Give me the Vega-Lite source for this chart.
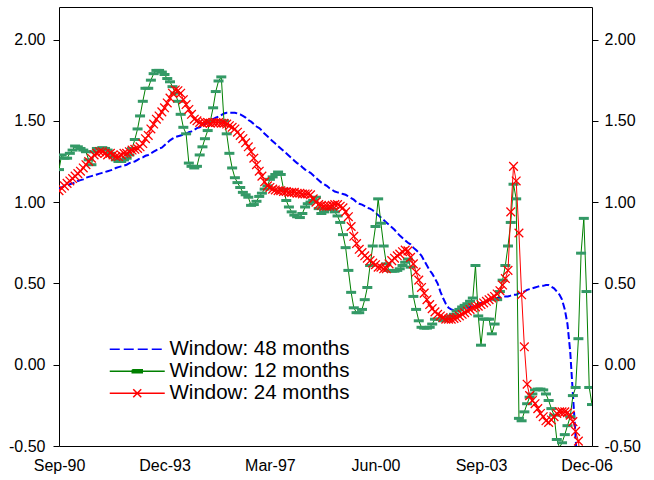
{
"$schema": "https://vega.github.io/schema/vega-lite/v6.json",
"width": 533, "height": 439,
"autosize": "none",
"padding": {"left": 59, "top": 7, "right": 62, "bottom": 34},
"background": "white",
"config": {
  "view": {"stroke": "black", "strokeWidth": 1},
  "font": "Liberation Sans",
  "axis": {"labelFont": "Liberation Sans", "labelFontSize": 16, "labelColor": "black", "tickColor": "black", "tickWidth": 1, "grid": false, "domain": false, "title": null, "labelFlush": false, "labelOverlap": false}
},
"data": {"values": [
{"d":"1990-09-01","w48":1.08,"w12":1.20,"w24":1.07},
{"d":"1990-10-01","w48":1.09,"w12":1.29,"w24":1.085},
{"d":"1990-11-01","w48":1.10,"w12":1.27,"w24":1.10},
{"d":"1990-12-01","w48":1.10,"w12":1.27,"w24":1.115},
{"d":"1991-01-01","w48":1.11,"w12":1.30,"w24":1.13},
{"d":"1991-02-01","w48":1.115,"w12":1.32,"w24":1.145},
{"d":"1991-03-01","w48":1.12,"w12":1.345,"w24":1.16},
{"d":"1991-04-01","w48":1.13,"w12":1.34,"w24":1.175},
{"d":"1991-05-01","w48":1.135,"w12":1.33,"w24":1.19},
{"d":"1991-06-01","w48":1.14,"w12":1.32,"w24":1.21},
{"d":"1991-07-01","w48":1.15,"w12":1.31,"w24":1.23},
{"d":"1991-08-01","w48":1.155,"w12":1.26,"w24":1.25},
{"d":"1991-09-01","w48":1.16,"w12":1.23,"w24":1.27},
{"d":"1991-10-01","w48":1.165,"w12":1.31,"w24":1.29},
{"d":"1991-11-01","w48":1.17,"w12":1.33,"w24":1.30},
{"d":"1991-12-01","w48":1.175,"w12":1.33,"w24":1.31},
{"d":"1992-01-01","w48":1.18,"w12":1.335,"w24":1.31},
{"d":"1992-02-01","w48":1.185,"w12":1.33,"w24":1.30},
{"d":"1992-03-01","w48":1.19,"w12":1.32,"w24":1.29},
{"d":"1992-04-01","w48":1.195,"w12":1.30,"w24":1.30},
{"d":"1992-05-01","w48":1.20,"w12":1.28,"w24":1.29},
{"d":"1992-06-01","w48":1.21,"w12":1.26,"w24":1.28},
{"d":"1992-07-01","w48":1.215,"w12":1.25,"w24":1.28},
{"d":"1992-08-01","w48":1.22,"w12":1.25,"w24":1.29},
{"d":"1992-09-01","w48":1.225,"w12":1.26,"w24":1.30},
{"d":"1992-10-01","w48":1.23,"w12":1.27,"w24":1.30},
{"d":"1992-11-01","w48":1.24,"w12":1.29,"w24":1.31},
{"d":"1992-12-01","w48":1.245,"w12":1.33,"w24":1.32},
{"d":"1993-01-01","w48":1.25,"w12":1.385,"w24":1.325},
{"d":"1993-02-01","w48":1.26,"w12":1.45,"w24":1.33},
{"d":"1993-03-01","w48":1.27,"w12":1.53,"w24":1.34},
{"d":"1993-04-01","w48":1.275,"w12":1.62,"w24":1.36},
{"d":"1993-05-01","w48":1.285,"w12":1.70,"w24":1.39},
{"d":"1993-06-01","w48":1.29,"w12":1.70,"w24":1.41},
{"d":"1993-07-01","w48":1.30,"w12":1.75,"w24":1.45},
{"d":"1993-08-01","w48":1.31,"w12":1.79,"w24":1.48},
{"d":"1993-09-01","w48":1.32,"w12":1.81,"w24":1.51},
{"d":"1993-10-01","w48":1.33,"w12":1.81,"w24":1.53},
{"d":"1993-11-01","w48":1.335,"w12":1.80,"w24":1.555},
{"d":"1993-12-01","w48":1.35,"w12":1.785,"w24":1.58},
{"d":"1994-01-01","w48":1.365,"w12":1.76,"w24":1.61},
{"d":"1994-02-01","w48":1.38,"w12":1.74,"w24":1.64},
{"d":"1994-03-01","w48":1.39,"w12":1.71,"w24":1.67},
{"d":"1994-04-01","w48":1.40,"w12":1.67,"w24":1.69},
{"d":"1994-05-01","w48":1.405,"w12":1.62,"w24":1.685},
{"d":"1994-06-01","w48":1.41,"w12":1.54,"w24":1.67},
{"d":"1994-07-01","w48":1.415,"w12":1.46,"w24":1.63},
{"d":"1994-08-01","w48":1.42,"w12":1.42,"w24":1.60},
{"d":"1994-09-01","w48":1.43,"w12":1.24,"w24":1.57},
{"d":"1994-10-01","w48":1.435,"w12":1.22,"w24":1.54},
{"d":"1994-11-01","w48":1.445,"w12":1.21,"w24":1.51},
{"d":"1994-12-01","w48":1.455,"w12":1.22,"w24":1.50},
{"d":"1995-01-01","w48":1.46,"w12":1.29,"w24":1.49},
{"d":"1995-02-01","w48":1.47,"w12":1.34,"w24":1.485},
{"d":"1995-03-01","w48":1.48,"w12":1.39,"w24":1.49},
{"d":"1995-04-01","w48":1.49,"w12":1.44,"w24":1.49},
{"d":"1995-05-01","w48":1.50,"w12":1.50,"w24":1.485},
{"d":"1995-06-01","w48":1.51,"w12":1.58,"w24":1.49},
{"d":"1995-07-01","w48":1.52,"w12":1.68,"w24":1.49},
{"d":"1995-08-01","w48":1.525,"w12":1.745,"w24":1.49},
{"d":"1995-09-01","w48":1.535,"w12":1.77,"w24":1.485},
{"d":"1995-10-01","w48":1.545,"w12":1.50,"w24":1.485},
{"d":"1995-11-01","w48":1.55,"w12":1.42,"w24":1.48},
{"d":"1995-12-01","w48":1.55,"w12":1.30,"w24":1.47},
{"d":"1996-01-01","w48":1.55,"w12":1.21,"w24":1.46},
{"d":"1996-02-01","w48":1.55,"w12":1.15,"w24":1.45},
{"d":"1996-03-01","w48":1.545,"w12":1.12,"w24":1.43},
{"d":"1996-04-01","w48":1.54,"w12":1.09,"w24":1.41},
{"d":"1996-05-01","w48":1.53,"w12":1.06,"w24":1.39},
{"d":"1996-06-01","w48":1.52,"w12":1.045,"w24":1.365},
{"d":"1996-07-01","w48":1.505,"w12":1.03,"w24":1.34},
{"d":"1996-08-01","w48":1.495,"w12":0.98,"w24":1.31},
{"d":"1996-09-01","w48":1.48,"w12":0.985,"w24":1.27},
{"d":"1996-10-01","w48":1.465,"w12":1.005,"w24":1.23},
{"d":"1996-11-01","w48":1.455,"w12":1.035,"w24":1.19},
{"d":"1996-12-01","w48":1.44,"w12":1.055,"w24":1.16},
{"d":"1997-01-01","w48":1.42,"w12":1.08,"w24":1.125},
{"d":"1997-02-01","w48":1.405,"w12":1.10,"w24":1.10},
{"d":"1997-03-01","w48":1.39,"w12":1.14,"w24":1.09},
{"d":"1997-04-01","w48":1.375,"w12":1.155,"w24":1.08},
{"d":"1997-05-01","w48":1.36,"w12":1.17,"w24":1.075},
{"d":"1997-06-01","w48":1.345,"w12":1.185,"w24":1.07},
{"d":"1997-07-01","w48":1.33,"w12":1.17,"w24":1.07},
{"d":"1997-08-01","w48":1.315,"w12":1.08,"w24":1.065},
{"d":"1997-09-01","w48":1.30,"w12":1.01,"w24":1.065},
{"d":"1997-10-01","w48":1.285,"w12":0.97,"w24":1.06},
{"d":"1997-11-01","w48":1.27,"w12":0.94,"w24":1.06},
{"d":"1997-12-01","w48":1.255,"w12":0.92,"w24":1.06},
{"d":"1998-01-01","w48":1.24,"w12":0.91,"w24":1.055},
{"d":"1998-02-01","w48":1.23,"w12":0.905,"w24":1.055},
{"d":"1998-03-01","w48":1.215,"w12":0.93,"w24":1.05},
{"d":"1998-04-01","w48":1.20,"w12":0.97,"w24":1.05},
{"d":"1998-05-01","w48":1.19,"w12":0.99,"w24":1.05},
{"d":"1998-06-01","w48":1.18,"w12":1.00,"w24":1.045},
{"d":"1998-07-01","w48":1.165,"w12":1.01,"w24":1.02},
{"d":"1998-08-01","w48":1.15,"w12":1.03,"w24":1.00},
{"d":"1998-09-01","w48":1.135,"w12":0.96,"w24":0.985},
{"d":"1998-10-01","w48":1.12,"w12":0.93,"w24":0.98},
{"d":"1998-11-01","w48":1.11,"w12":0.94,"w24":0.975},
{"d":"1998-12-01","w48":1.10,"w12":0.955,"w24":0.975},
{"d":"1999-01-01","w48":1.085,"w12":0.96,"w24":0.975},
{"d":"1999-02-01","w48":1.075,"w12":0.955,"w24":0.98},
{"d":"1999-03-01","w48":1.065,"w12":0.94,"w24":0.985},
{"d":"1999-04-01","w48":1.06,"w12":0.915,"w24":0.985},
{"d":"1999-05-01","w48":1.055,"w12":0.875,"w24":0.975},
{"d":"1999-06-01","w48":1.05,"w12":0.80,"w24":0.965},
{"d":"1999-07-01","w48":1.045,"w12":0.72,"w24":0.94},
{"d":"1999-08-01","w48":1.035,"w12":0.58,"w24":0.91},
{"d":"1999-09-01","w48":1.025,"w12":0.445,"w24":0.85},
{"d":"1999-10-01","w48":1.015,"w12":0.35,"w24":0.79},
{"d":"1999-11-01","w48":1.00,"w12":0.32,"w24":0.745},
{"d":"1999-12-01","w48":0.99,"w12":0.32,"w24":0.71},
{"d":"2000-01-01","w48":0.985,"w12":0.34,"w24":0.69},
{"d":"2000-02-01","w48":0.975,"w12":0.40,"w24":0.67},
{"d":"2000-03-01","w48":0.965,"w12":0.475,"w24":0.655},
{"d":"2000-04-01","w48":0.96,"w12":0.61,"w24":0.64},
{"d":"2000-05-01","w48":0.95,"w12":0.73,"w24":0.625},
{"d":"2000-06-01","w48":0.935,"w12":0.85,"w24":0.615},
{"d":"2000-07-01","w48":0.92,"w12":1.02,"w24":0.60},
{"d":"2000-08-01","w48":0.905,"w12":0.87,"w24":0.60},
{"d":"2000-09-01","w48":0.89,"w12":0.73,"w24":0.59},
{"d":"2000-10-01","w48":0.875,"w12":0.62,"w24":0.59},
{"d":"2000-11-01","w48":0.86,"w12":0.58,"w24":0.62},
{"d":"2000-12-01","w48":0.845,"w12":0.575,"w24":0.64},
{"d":"2001-01-01","w48":0.83,"w12":0.575,"w24":0.655},
{"d":"2001-02-01","w48":0.81,"w12":0.58,"w24":0.67},
{"d":"2001-03-01","w48":0.795,"w12":0.59,"w24":0.68},
{"d":"2001-04-01","w48":0.78,"w12":0.61,"w24":0.695},
{"d":"2001-05-01","w48":0.765,"w12":0.63,"w24":0.705},
{"d":"2001-06-01","w48":0.75,"w12":0.65,"w24":0.70},
{"d":"2001-07-01","w48":0.74,"w12":0.60,"w24":0.66},
{"d":"2001-08-01","w48":0.72,"w12":0.42,"w24":0.62},
{"d":"2001-09-01","w48":0.705,"w12":0.34,"w24":0.57},
{"d":"2001-10-01","w48":0.69,"w12":0.27,"w24":0.52},
{"d":"2001-11-01","w48":0.67,"w12":0.23,"w24":0.475},
{"d":"2001-12-01","w48":0.64,"w12":0.225,"w24":0.44},
{"d":"2002-01-01","w48":0.61,"w12":0.225,"w24":0.40},
{"d":"2002-02-01","w48":0.58,"w12":0.23,"w24":0.37},
{"d":"2002-03-01","w48":0.56,"w12":0.25,"w24":0.345},
{"d":"2002-04-01","w48":0.53,"w12":0.28,"w24":0.325},
{"d":"2002-05-01","w48":0.50,"w12":0.28,"w24":0.31},
{"d":"2002-06-01","w48":0.45,"w12":0.28,"w24":0.30},
{"d":"2002-07-01","w48":0.41,"w12":0.27,"w24":0.29},
{"d":"2002-08-01","w48":0.375,"w12":0.28,"w24":0.28},
{"d":"2002-09-01","w48":0.35,"w12":0.29,"w24":0.28},
{"d":"2002-10-01","w48":0.34,"w12":0.30,"w24":0.28},
{"d":"2002-11-01","w48":0.335,"w12":0.31,"w24":0.285},
{"d":"2002-12-01","w48":0.335,"w12":0.33,"w24":0.29},
{"d":"2003-01-01","w48":0.335,"w12":0.34,"w24":0.30},
{"d":"2003-02-01","w48":0.34,"w12":0.355,"w24":0.31},
{"d":"2003-03-01","w48":0.345,"w12":0.365,"w24":0.32},
{"d":"2003-04-01","w48":0.35,"w12":0.375,"w24":0.33},
{"d":"2003-05-01","w48":0.355,"w12":0.39,"w24":0.34},
{"d":"2003-06-01","w48":0.36,"w12":0.41,"w24":0.35},
{"d":"2003-07-01","w48":0.365,"w12":0.61,"w24":0.355},
{"d":"2003-08-01","w48":0.37,"w12":0.30,"w24":0.36},
{"d":"2003-09-01","w48":0.38,"w12":0.12,"w24":0.37},
{"d":"2003-10-01","w48":0.385,"w12":0.28,"w24":0.38},
{"d":"2003-11-01","w48":0.39,"w12":0.28,"w24":0.39},
{"d":"2003-12-01","w48":0.40,"w12":0.28,"w24":0.40},
{"d":"2004-01-01","w48":0.40,"w12":0.19,"w24":0.41},
{"d":"2004-02-01","w48":0.405,"w12":0.25,"w24":0.42},
{"d":"2004-03-01","w48":0.41,"w12":0.40,"w24":0.435},
{"d":"2004-04-01","w48":0.41,"w12":0.45,"w24":0.455},
{"d":"2004-05-01","w48":0.415,"w12":0.52,"w24":0.49},
{"d":"2004-06-01","w48":0.42,"w12":0.61,"w24":0.53},
{"d":"2004-07-01","w48":0.42,"w12":0.73,"w24":0.58},
{"d":"2004-08-01","w48":0.425,"w12":0.875,"w24":0.94},
{"d":"2004-09-01","w48":0.43,"w12":1.11,"w24":1.22},
{"d":"2004-10-01","w48":0.43,"w12":1.02,"w24":1.13},
{"d":"2004-11-01","w48":0.44,"w12":-0.33,"w24":0.81},
{"d":"2004-12-01","w48":0.445,"w12":-0.345,"w24":0.43},
{"d":"2005-01-01","w48":0.45,"w12":-0.29,"w24":0.11},
{"d":"2005-02-01","w48":0.46,"w12":-0.24,"w24":-0.12},
{"d":"2005-03-01","w48":0.465,"w12":-0.20,"w24":-0.19},
{"d":"2005-04-01","w48":0.47,"w12":-0.18,"w24":-0.22},
{"d":"2005-05-01","w48":0.475,"w12":-0.155,"w24":-0.24},
{"d":"2005-06-01","w48":0.48,"w12":-0.15,"w24":-0.27},
{"d":"2005-07-01","w48":0.485,"w12":-0.15,"w24":-0.30},
{"d":"2005-08-01","w48":0.485,"w12":-0.155,"w24":-0.32},
{"d":"2005-09-01","w48":0.49,"w12":-0.18,"w24":-0.345},
{"d":"2005-10-01","w48":0.49,"w12":-0.22,"w24":-0.355},
{"d":"2005-11-01","w48":0.48,"w12":-0.27,"w24":-0.34},
{"d":"2005-12-01","w48":0.47,"w12":-0.31,"w24":-0.32},
{"d":"2006-01-01","w48":0.45,"w12":-0.46,"w24":-0.30},
{"d":"2006-02-01","w48":0.43,"w12":-0.51,"w24":-0.29},
{"d":"2006-03-01","w48":0.40,"w12":-0.48,"w24":-0.29},
{"d":"2006-04-01","w48":0.34,"w12":-0.43,"w24":-0.29},
{"d":"2006-05-01","w48":0.25,"w12":-0.375,"w24":-0.295},
{"d":"2006-06-01","w48":0.08,"w12":-0.32,"w24":-0.31},
{"d":"2006-07-01","w48":-0.18,"w12":-0.19,"w24":-0.35},
{"d":"2006-08-01","w48":-0.45,"w12":-0.14,"w24":-0.41},
{"d":"2006-09-01","w48":-0.75,"w12":0.16,"w24":-0.47},
{"d":"2006-10-01","w12":0.686,"w24":-0.62},
{"d":"2006-11-01","w12":0.90},
{"d":"2006-12-01","w12":0.45},
{"d":"2007-01-01","w12":-0.14},
{"d":"2007-02-01","w12":-0.245}
]},
"transform": [{"fold": ["w48", "w12", "w24"], "as": ["key", "v"]}],
"encoding": {
  "x": {"field": "d", "type": "temporal",
    "scale": {"domain": [{"year": 1990, "month": 9, "date": 1}, {"year": 2007, "month": 2, "date": 1}]},
    "axis": {"values": [{"year": 1990, "month": 9, "date": 1}, {"year": 1993, "month": 12, "date": 1}, {"year": 1997, "month": 3, "date": 1}, {"year": 2000, "month": 6, "date": 1}, {"year": 2003, "month": 9, "date": 1}, {"year": 2006, "month": 12, "date": 1}],
      "format": "%b-%y", "ticks": false, "labelPadding": 11}},
  "y": {"field": "v", "type": "quantitative", "scale": {"domain": [-0.5, 2.2], "nice": false, "zero": false}, "axis": null}
},
"layer": [
  {"transform": [{"filter": "datum.key === 'w48'"}],
   "mark": {"type": "line", "strokeWidth": 2, "strokeDash": [7, 3], "clip": true},
   "encoding": {
     "color": {"field": "key", "type": "nominal",
       "scale": {"domain": ["w48", "w12", "w24"], "range": ["#0000FF", "#008000", "#FF0000"]},
       "legend": {"title": null, "orient": "none", "legendX": 68, "legendY": 332, "direction": "vertical",
         "padding": 0, "rowPadding": 1, "labelFont": "Liberation Sans", "labelFontSize": 20.5, "labelColor": "black",
         "labelOffset": 22, "symbolOffset": 0, "symbolSize": 100, "symbolStrokeWidth": 1.5, "labelLimit": 0,
         "labelExpr": "'Window: ' + slice(datum.label, 1) + ' months'",
         "encode": {"symbols": {"update": {
           "shape": {"signal": "datum.value === 'w48' ? 'M-5.5,0H5.5' : datum.value === 'w12' ? 'M-5.5,0H5.5M-1,-0.3H1V0.3H-1Z' : 'M-5.5,0H5.5M-0.8,-0.8L0.8,0.8M-0.8,0.8L0.8,-0.8'"},
           "strokeDash": {"signal": "datum.value === 'w48' ? [10, 4] : [200, 0]"}
         }}}}},
     "y": {"field": "v", "type": "quantitative",
       "axis": {"orient": "left", "values": [-0.5, 0, 0.5, 1, 1.5, 2], "labelExpr": "datum.value < 0 ? '-' + format(-datum.value, '.2f') : format(datum.value, '.2f')", "tickSize": 6, "labelPadding": 8}}
   }},
  {"transform": [{"filter": "datum.key === 'w12'"}],
   "mark": {"type": "line", "strokeWidth": 1, "clip": true},
   "encoding": {"color": {"field": "key", "type": "nominal", "scale": {"domain": ["w48", "w12", "w24"], "range": ["#0000FF", "#008000", "#FF0000"]}}}},
  {"transform": [{"filter": "datum.key === 'w12'"}],
   "mark": {"type": "point", "shape": "M-1,-0.3H1V0.3H-1Z", "size": 100, "filled": true, "color": "#339966", "opacity": 1, "clip": true},
   "encoding": {
     "y": {"field": "v", "type": "quantitative",
       "axis": {"orient": "right", "values": [-0.5, 0, 0.5, 1, 1.5, 2], "labelExpr": "datum.value < 0 ? '-' + format(-datum.value, '.2f') : format(datum.value, '.2f')", "tickSize": 6, "labelPadding": 6}}
   }},
  {"transform": [{"filter": "datum.key === 'w24'"}],
   "mark": {"type": "line", "strokeWidth": 1, "clip": true},
   "encoding": {"color": {"field": "key", "type": "nominal", "scale": {"domain": ["w48", "w12", "w24"], "range": ["#0000FF", "#008000", "#FF0000"]}}}},
  {"transform": [{"filter": "datum.key === 'w24'"}],
   "mark": {"type": "point", "shape": "M-1,-1L1,1M-1,1L1,-1", "size": 75, "filled": false, "color": "#FF0000", "strokeWidth": 1.3, "opacity": 1, "clip": true}}
],
"resolve": {"axis": {"y": "independent"}}
}
